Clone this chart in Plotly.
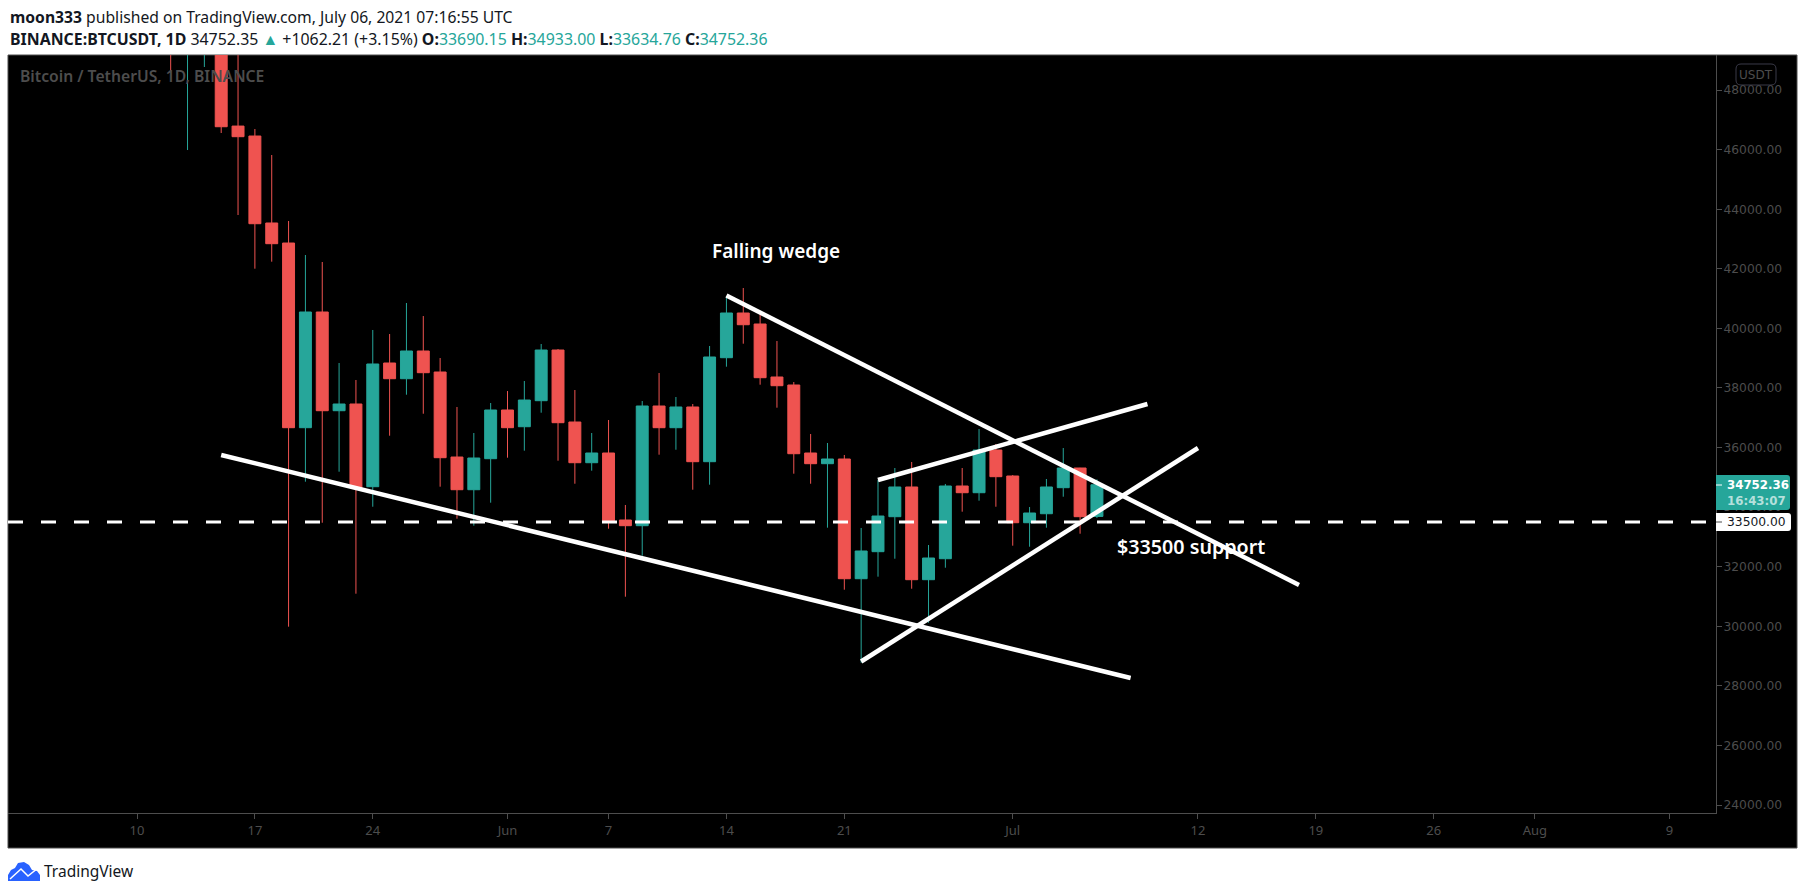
import plotly.graph_objects as go

# daily candles, the ones running off the top are estimates
days = ['2021-05-12', '2021-05-13', '2021-05-14', '2021-05-15', '2021-05-16', '2021-05-17', '2021-05-18',
        '2021-05-19', '2021-05-20', '2021-05-21', '2021-05-22', '2021-05-23', '2021-05-24', '2021-05-25',
        '2021-05-26', '2021-05-27', '2021-05-28', '2021-05-29', '2021-05-30', '2021-05-31', '2021-06-01',
        '2021-06-02', '2021-06-03', '2021-06-04', '2021-06-05', '2021-06-06', '2021-06-07', '2021-06-08',
        '2021-06-09', '2021-06-10', '2021-06-11', '2021-06-12', '2021-06-13', '2021-06-14', '2021-06-15',
        '2021-06-16', '2021-06-17', '2021-06-18', '2021-06-19', '2021-06-20', '2021-06-21', '2021-06-22',
        '2021-06-23', '2021-06-24', '2021-06-25', '2021-06-26', '2021-06-27', '2021-06-28', '2021-06-29',
        '2021-06-30', '2021-07-01', '2021-07-02', '2021-07-03', '2021-07-04', '2021-07-05', '2021-07-06']
opens = [56700, 49500, 49670, 49840, 46790, 46456, 43537, 42865, 36667, 40550, 37237, 37462, 34687, 38838,
         38311, 39241, 38536, 35683, 34586, 35627, 37261, 36700, 37573, 39274, 36858, 35492, 35818, 33569,
         33378, 37395, 36667, 37362, 35526, 39016, 40516, 40147, 38368, 38100, 35818, 35459, 35616, 31599,
         32506, 33680, 34677, 31566, 32270, 34710, 34485, 35918, 35046, 33478, 33780, 34654, 35314, 33690]
highs = [58000, 51300, 51450, 50700, 49790, 46691, 45819, 43604, 42463, 42228, 38838, 38268, 39946, 39811,
         40852, 40415, 39005, 37362, 36489, 37496, 37898, 38234, 39476, 39308, 37932, 36489, 36925, 34073,
         37563, 38503, 37697, 37462, 39409, 41087, 41355, 40550, 39576, 38200, 36455, 36153, 35751, 33301,
         34912, 35314, 35516, 32730, 34778, 35314, 36623, 36120, 35079, 34005, 34945, 35985, 35320, 34933]
lows = [48604, 45986, 48772, 46557, 43805, 42003, 42238, 29989, 34855, 33478, 35190, 31096, 34015, 36398,
        37774, 37136, 34687, 33613, 33378, 34150, 35660, 35895, 37170, 35559, 34787, 35224, 33277, 30995,
        32371, 35761, 35928, 34586, 34754, 38714, 39486, 38110, 37338, 35123, 34787, 33311, 31230, 28780,
        31667, 32270, 31263, 30122, 31968, 33848, 34217, 34015, 32707, 32673, 33311, 34351, 33109, 33634]
closes = [49950, 49670, 49840, 46768, 46433, 43513, 42842, 36667, 40550, 37237, 37462, 34643, 38805, 38311,
          39241, 38513, 35660, 34586, 35650, 37261, 36667, 37596, 39274, 36835, 35492, 35818, 33546, 33378,
          37395, 36667, 37362, 35526, 39040, 40516, 40123, 38345, 38076, 35794, 35459, 35616, 31599, 32529,
          33703, 34677, 31566, 32294, 34710, 34485, 35918, 35023, 33478, 33804, 34677, 35314, 33680, 34752]

# drawn trend lines, start and end
lower_x = ['2021-05-15', '2021-07-08']
lower_y = [35751, 28267]
falling_x = ['2021-06-14', '2021-07-18']
falling_y = [41103, 31388]
top_x = ['2021-06-23', '2021-07-09']
top_y = [34912, 37462]
rising_x = ['2021-06-22', '2021-07-12']
rising_y = [28820, 35985]
support = 33500

x_tick_vals = ['2021-05-10', '2021-05-17', '2021-05-24', '2021-06-01', '2021-06-07', '2021-06-14', '2021-06-21',
               '2021-07-01', '2021-07-12', '2021-07-19', '2021-07-26', '2021-08-01', '2021-08-09']
x_tick_text = ['10', '17', '24', 'Jun', '7', '14', '21', 'Jul', '12', '19', '26', 'Aug', '9']
y_tick_vals = [24000, 26000, 28000, 30000, 32000, 34000, 36000, 38000, 40000, 42000, 44000, 46000, 48000]

RED = '#ef5350'
TEAL = '#26a69a'
GREY = '#4d4d4d'
UI_FONT = 'Noto Sans'
AXIS_FONT = 'DejaVu Sans'

# plot area in page pixels
W, H = 1805, 895
LEFT, RIGHT, TOP, BOTTOM = 8, 1716, 55, 813


def px(x):
    return (x - LEFT) / (RIGHT - LEFT)


def py(y):
    return (BOTTOM - y) / (BOTTOM - TOP)


def box(x0, y0, x1, y1, color, line='rgba(0,0,0,0)', layer='above'):
    return dict(type='rect', xref='paper', yref='paper', x0=px(x0), x1=px(x1), y0=py(y0), y1=py(y1),
                fillcolor=color, line=dict(color=line, width=1), layer=layer)


def rounded(x0, y0, x1, y1, r, color, line=None, left_round=True):
    rl = r if left_round else 0
    p = 'M %f %f L %f %f Q %f %f %f %f L %f %f Q %f %f %f %f L %f %f Q %f %f %f %f L %f %f Q %f %f %f %f Z' % (
        px(x0 + rl), py(y0), px(x1 - r), py(y0), px(x1), py(y0), px(x1), py(y0 + r),
        px(x1), py(y1 - r), px(x1), py(y1), px(x1 - r), py(y1),
        px(x0 + rl), py(y1), px(x0), py(y1), px(x0), py(y1 - rl),
        px(x0), py(y0 + rl), px(x0), py(y0), px(x0 + rl), py(y0))
    return dict(type='path', xref='paper', yref='paper', path=p, fillcolor=color,
                line=dict(color=line or 'rgba(0,0,0,0)', width=1))


def tick(y, color):
    return dict(type='line', xref='paper', yref='paper', x0=px(1716), x1=px(1722), y0=py(y), y1=py(y),
                line=dict(color=color, width=1))


def label(x, y, text, size, color, anchor='left', weight=None, family=UI_FONT):
    return dict(xref='paper', yref='paper', x=px(x), y=py(y), text=text, showarrow=False, xanchor=anchor,
                yanchor='middle', align=anchor, font=dict(size=size, color=color, family=family, weight=weight))


fig = go.Figure()
fig.add_trace(go.Candlestick(x=days, open=opens, high=highs, low=lows, close=closes,
                             increasing=dict(line=dict(color=TEAL, width=1), fillcolor=TEAL),
                             decreasing=dict(line=dict(color=RED, width=1), fillcolor=RED),
                             whiskerwidth=0, hoverinfo='skip', showlegend=False))

for xs, ys in [(lower_x, lower_y), (falling_x, falling_y), (top_x, top_y), (rising_x, rising_y)]:
    fig.add_trace(go.Scatter(x=xs, y=ys, mode='lines', line=dict(color='white', width=4.5),
                             hoverinfo='skip', showlegend=False))

shapes = [
    box(LEFT, TOP, 1797, 848, 'black', line=GREY, layer='below'),
    dict(type='line', xref='paper', yref='y', x0=0, x1=1, y0=support, y1=support,
         line=dict(color='white', width=3, dash='15px,18px')),
    rounded(1716, 475, 1790, 510, 3, TEAL, left_round=False),
    rounded(1716, 513, 1791, 531, 3, 'white', left_round=False),
    tick(485, 'white'),
    tick(522, '#4d4d4d'),
    rounded(1736, 64, 1776, 85, 5, 'rgba(0,0,0,0)', line='#3a3a48'),
    # TradingView cloud
    dict(type='path', xref='paper', yref='paper', fillcolor='#2962ff', line=dict(width=0),
         path='M %f %f ' % (px(8), py(881)) +
              ' '.join('L %f %f' % (px(a), py(b)) for a, b in
                       [(8, 875), (11, 870), (15, 868), (18, 863), (24, 862), (29, 865), (32, 870),
                        (37, 871), (40, 875), (40, 881)]) + ' Z'),
    dict(type='path', xref='paper', yref='paper', line=dict(color='white', width=1.5),
         path='M %f %f ' % (px(10), py(879)) +
              ' '.join('L %f %f' % (px(a), py(b)) for a, b in [(21, 869), (28, 876), (38, 868)])),
]

row2 = ('<b>BINANCE:BTCUSDT, 1D</b> 34752.35 <span style="color:%s">▲</span> +1062.21 (+3.15%%) '
        '<b>O:</b><span style="color:%s">33690.15</span> <b>H:</b><span style="color:%s">34933.00</span> '
        '<b>L:</b><span style="color:%s">33634.76</span> <b>C:</b><span style="color:%s">34752.36</span>'
        % (TEAL, TEAL, TEAL, TEAL, TEAL))

annotations = [
    label(8, 17, '<b>moon333</b> published on TradingView.com, July 06, 2021 07:16:55 UTC', 15.7, '#131722'),
    label(8, 39, row2, 15.9, '#131722'),
    label(18, 76, 'Bitcoin / TetherUS, 1D, BINANCE', 15.7, GREY, weight=600),
    label(776, 251, 'Falling wedge', 19, 'white', anchor='center', weight=600),
    label(1191, 546, '$33500 support', 19.7, 'white', anchor='center', weight=600),
    label(1756, 75, 'USDT', 12, GREY, anchor='center', family=AXIS_FONT),
    label(1725, 485, '34752.36', 11.8, 'white', weight=600, family=AXIS_FONT),
    label(1725, 501, '16:43:07', 11.8, '#b5e0dc', weight=600, family=AXIS_FONT),
    label(1725, 522, '33500.00', 12.3, '#131722', family=AXIS_FONT),
    label(42, 871, 'TradingView', 15.5, '#131722'),
]

fig.update_layout(
    width=W, height=H, margin=dict(l=LEFT, r=W - RIGHT, t=TOP, b=H - BOTTOM),
    paper_bgcolor='white', plot_bgcolor='black', boxgap=0.29, boxgroupgap=0, showlegend=False,
    shapes=shapes, annotations=annotations,
    xaxis=dict(type='date', range=['2021-05-02 08:10', '2021-08-11 18:14'], rangeslider=dict(visible=False),
               tickvals=x_tick_vals, ticktext=x_tick_text, showgrid=False, zeroline=False,
               ticks='outside', ticklen=5, tickcolor=GREY, tickfont=dict(size=13, color=GREY, family=UI_FONT),
               showline=True, linecolor=GREY, linewidth=1),
    yaxis=dict(side='right', range=[23736, 49175], tickvals=y_tick_vals, tickformat='.2f', showgrid=False,
               zeroline=False, ticks='outside', ticklen=5, tickcolor=GREY, ticklabelstandoff=-1,
               tickfont=dict(size=12.3, color=GREY, family=AXIS_FONT),
               showline=True, linecolor=GREY, linewidth=1),
)

fig.write_html("out.html", post_script="document.body.style.margin='0';", config=dict(displayModeBar=False))
